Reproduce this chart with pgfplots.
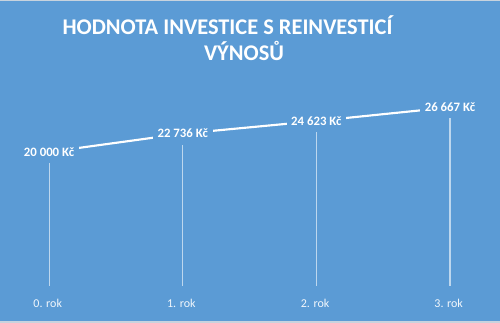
\documentclass[border=0pt]{standalone}
\usepackage{pgfplots}
\pgfplotsset{compat=1.18}
\usepackage{fontspec}
\setmainfont{Carlito}
\definecolor{bg}{HTML}{5B9BD5}
\definecolor{edge}{HTML}{C8D3DE}
\begin{document}
\begin{tikzpicture}[x=0.75pt,y=0.75pt]
\fill[bg] (0,0) rectangle (500,323);
\fill[edge] (0,322) rectangle (500,323);
\fill[edge] (0,0) rectangle (500,1.5);
\node[text=white,font=\bfseries\fontsize{16.8}{20}\selectfont] at (227.5,{323-25}) {HODNOTA INVESTICE S REINVESTICÍ};
\node[text=white,font=\bfseries\fontsize{16.8}{20}\selectfont] at (244,{323-51}) {VÝNOSŮ};
\begin{axis}[
  at={(0pt,27.75pt)}, anchor=south west,
  scale only axis, width=375pt, height=150.75pt,
  xmin=-0.367, xmax=3.374, ymin=0, ymax=30000,
  axis line style={draw=none}, major tick length=0pt,
  ytick=\empty,
  xtick={0,1,2,3}, xticklabels={0. rok,1. rok,2. rok,3. rok},
  xticklabel style={text=white!92!bg, font=\fontsize{9}{11}\selectfont, yshift=-6.5pt, xshift=-1pt},
  clip=false,
]
\addplot[ycomb, draw=white, draw opacity=0.6, line width=0.8pt, mark=none]
  coordinates {(0,20000) (1,22736) (2,24623) (3,26667)};
\addplot[white, line width=1.6pt, mark=none,
  nodes near coords={\pgfplotspointmeta},
  point meta=explicit symbolic,
  every node near coord/.style={anchor=center, fill=bg, text=white,
    font=\bfseries\fontsize{9.6}{11}\selectfont, inner xsep=3.5pt, inner ysep=5pt}]
  coordinates {(0,20000) [20 000 Kč] (1,22736) [22 736 Kč] (2,24623) [24 623 Kč] (3,26667) [26 667 Kč]};
\end{axis}
\end{tikzpicture}
\end{document}
